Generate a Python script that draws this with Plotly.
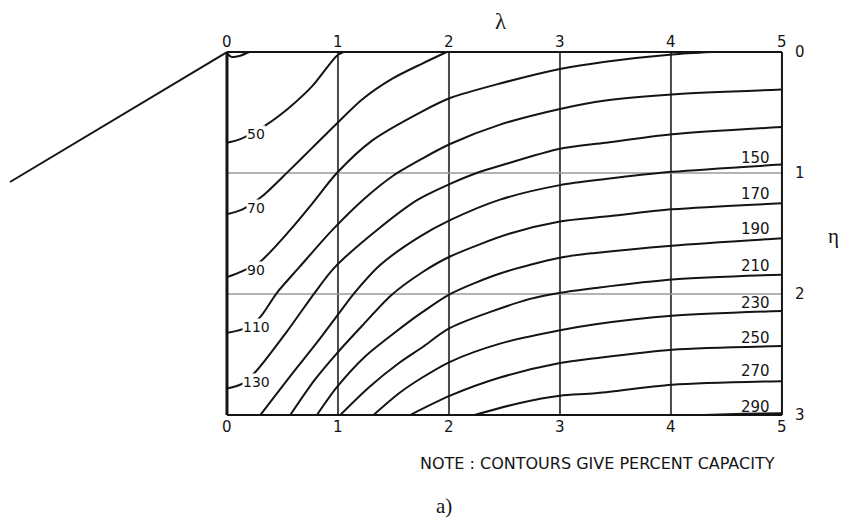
import plotly.graph_objects as go

# ---- percent-capacity contour lines: lambda (x) and eta (y) along each line ----
lam_30 = [0.0, 0.04, 0.12, 0.20]
eta_30 = [0.01, 0.04, 0.03, 0.0]

lam_50 = [0.0, 0.12, 0.34, 0.56, 0.77, 0.99, 1.05]
eta_50 = [0.75, 0.72, 0.61, 0.46, 0.28, 0.03, 0.0]

lam_70 = [0.0, 0.14, 0.32, 0.56, 0.77, 0.99, 1.22, 1.49, 1.76, 1.98]
eta_70 = [1.34, 1.30, 1.19, 0.98, 0.79, 0.59, 0.39, 0.22, 0.095, 0.0]

lam_90 = [0.0, 0.14, 0.29, 0.57, 0.77, 0.99, 1.31, 1.76, 2.01, 2.46, 3.0, 3.41, 4.01, 4.37]
eta_90 = [1.86, 1.81, 1.74, 1.47, 1.25, 1.0, 0.73, 0.49, 0.38, 0.26, 0.14, 0.08, 0.02, 0.0]

lam_110 = [0.0, 0.14, 0.29, 0.45, 0.65, 0.95, 1.24, 1.50, 1.76, 2.01, 2.46, 3.0, 3.41, 4.01, 5.0]
eta_110 = [2.32, 2.29, 2.20, 1.99, 1.78, 1.47, 1.21, 1.02, 0.88, 0.76, 0.60, 0.47, 0.40, 0.35, 0.31]

lam_130 = [0.0, 0.14, 0.27, 0.54, 0.79, 0.97, 1.38, 1.72, 2.01, 2.25, 2.46, 3.0, 3.41, 4.01, 5.0]
eta_130 = [2.78, 2.74, 2.63, 2.31, 1.99, 1.78, 1.45, 1.22, 1.09, 1.0, 0.94, 0.80, 0.75, 0.68, 0.62]

lam_150 = [0.30, 0.56, 0.82, 1.0, 1.14, 1.38, 1.73, 2.01, 2.46, 3.0, 3.41, 4.01, 5.0]
eta_150 = [3.0, 2.69, 2.39, 2.17, 2.0, 1.76, 1.53, 1.39, 1.22, 1.10, 1.05, 0.99, 0.93]

lam_170 = [0.57, 0.79, 0.99, 1.22, 1.48, 1.76, 2.01, 2.55, 3.0, 3.41, 4.01, 5.0]
eta_170 = [3.0, 2.71, 2.49, 2.26, 2.01, 1.82, 1.69, 1.50, 1.40, 1.36, 1.30, 1.25]

lam_190 = [0.81, 0.99, 1.24, 1.51, 1.76, 2.01, 2.46, 3.0, 3.32, 4.01, 5.0]
eta_190 = [3.0, 2.77, 2.52, 2.32, 2.15, 2.0, 1.83, 1.70, 1.66, 1.60, 1.54]

lam_210 = [1.02, 1.28, 1.55, 1.76, 2.01, 2.73, 3.0, 3.32, 4.01, 5.0]
eta_210 = [3.0, 2.77, 2.57, 2.44, 2.28, 2.04, 1.99, 1.95, 1.88, 1.84]

lam_230 = [1.32, 1.55, 1.76, 2.01, 2.46, 3.0, 3.32, 4.01, 5.0]
eta_230 = [3.0, 2.82, 2.69, 2.56, 2.41, 2.30, 2.25, 2.18, 2.14]

lam_250 = [1.65, 2.01, 2.46, 3.0, 3.32, 4.01, 5.0]
eta_250 = [3.0, 2.84, 2.69, 2.57, 2.53, 2.46, 2.43]

lam_270 = [2.23, 2.64, 3.0, 3.32, 4.01, 5.0]
eta_270 = [3.0, 2.90, 2.84, 2.82, 2.75, 2.72]

lam_290 = [4.30, 4.65, 5.0]
eta_290 = [3.0, 2.99, 2.985]

# contour level values, in drawing order
levels = [30, 50, 70, 90, 110, 130, 150, 170, 190, 210, 230, 250, 270, 290]
lam_lines = [lam_30, lam_50, lam_70, lam_90, lam_110, lam_130, lam_150,
             lam_170, lam_190, lam_210, lam_230, lam_250, lam_270, lam_290]
eta_lines = [eta_30, eta_50, eta_70, eta_90, eta_110, eta_130, eta_150,
             eta_170, eta_190, eta_210, eta_230, eta_250, eta_270, eta_290]

# labelled levels on the left edge and on the right edge
left_levels = [50, 70, 90, 110, 130]
left_label_eta = [0.68, 1.29, 1.80, 2.27, 2.73]
right_levels = [150, 170, 190, 210, 230, 250, 270, 290]
right_label_eta = [0.876, 1.17, 1.46, 1.77, 2.07, 2.36, 2.64, 2.93]

# axes: lambda across, eta down
lam_ticks = [0, 1, 2, 3, 4, 5]
eta_ticks = [0, 1, 2, 3]
lam_grid = [1, 2, 3, 4]
eta_grid = [1, 2]
lam_max = 5
eta_max = 3

# the slanted guide line leaving the origin corner
guide_lam = [-1.955, 0.0]
guide_eta = [1.074, 0.0]

note_text = "NOTE : CONTOURS GIVE PERCENT CAPACITY"

INK = "#141414"
fig = go.Figure()

for lam, eta in zip(lam_lines, eta_lines):
    fig.add_trace(go.Scatter(
        x=lam, y=eta, mode="lines",
        line=dict(color=INK, width=2, shape="spline", smoothing=0.8),
        hoverinfo="skip", showlegend=False))

fig.add_trace(go.Scatter(
    x=guide_lam, y=guide_eta, mode="lines",
    line=dict(color=INK, width=2), hoverinfo="skip", showlegend=False))

shapes = []
for g in lam_grid:
    shapes.append(dict(type="line", xref="x", yref="y", x0=g, x1=g, y0=0, y1=eta_max,
                       line=dict(color="#4a4a4a", width=2), layer="below"))
for g in eta_grid:
    shapes.append(dict(type="line", xref="x", yref="y", x0=0, x1=lam_max, y0=g, y1=g,
                       line=dict(color="#9a9a9a", width=1.6), layer="below"))
# frame
shapes.append(dict(type="line", xref="x", yref="y", x0=0, x1=0, y0=0, y1=eta_max,
                   line=dict(color=INK, width=3)))
shapes.append(dict(type="line", xref="x", yref="y", x0=0, x1=lam_max, y0=0, y1=0,
                   line=dict(color=INK, width=2)))
shapes.append(dict(type="line", xref="x", yref="y", x0=0, x1=lam_max, y0=eta_max, y1=eta_max,
                   line=dict(color=INK, width=2)))
shapes.append(dict(type="line", xref="x", yref="y", x0=lam_max, x1=lam_max, y0=0, y1=eta_max,
                   line=dict(color=INK, width=2)))

annotations = []
tick_font = dict(family="DejaVu Sans", size=15, color=INK)
for t in lam_ticks:
    annotations.append(dict(x=t, y=-0.085, text=str(t), showarrow=False,
                            xref="x", yref="y", font=tick_font))
    annotations.append(dict(x=t, y=3.10, text=str(t), showarrow=False,
                            xref="x", yref="y", font=tick_font))
for t in eta_ticks:
    annotations.append(dict(x=5.165, y=t, text=str(t), showarrow=False,
                            xref="x", yref="y", font=tick_font))

for lv, e in zip(left_levels, left_label_eta):
    annotations.append(dict(x=0.265, y=e, text=str(lv), showarrow=False,
                            xref="x", yref="y", bgcolor="white", borderpad=0,
                            font=dict(family="DejaVu Sans", size=14, color=INK)))
for lv, e in zip(right_levels, right_label_eta):
    annotations.append(dict(x=4.91, y=e, text=str(lv), showarrow=False,
                            xref="x", yref="y", xanchor="right",
                            font=dict(family="DejaVu Sans", size=15, color=INK)))

annotations.append(dict(x=2.468, y=-0.25, text="λ", showarrow=False, xref="x", yref="y",
                        font=dict(family="Liberation Serif", size=23, color=INK)))
annotations.append(dict(x=5.46, y=1.52, text="η", showarrow=False, xref="x", yref="y",
                        font=dict(family="Liberation Serif", size=21, color=INK)))
annotations.append(dict(x=3.342, y=3.397, text=note_text, showarrow=False, xref="x", yref="y",
                        font=dict(family="DejaVu Sans", size=16, color=INK)))
annotations.append(dict(x=1.955, y=3.752, text="a)", showarrow=False, xref="x", yref="y",
                        font=dict(family="Liberation Serif", size=21, color=INK)))

fig.update_layout(
    width=841, height=522,
    margin=dict(l=0, r=0, t=0, b=0),
    paper_bgcolor="white", plot_bgcolor="white",
    xaxis=dict(range=[-2.045, 5.532], visible=False, fixedrange=True),
    yaxis=dict(range=[3.884, -0.430], visible=False, fixedrange=True),
    shapes=shapes, annotations=annotations,
    showlegend=False,
)

fig.write_html("out.html")
